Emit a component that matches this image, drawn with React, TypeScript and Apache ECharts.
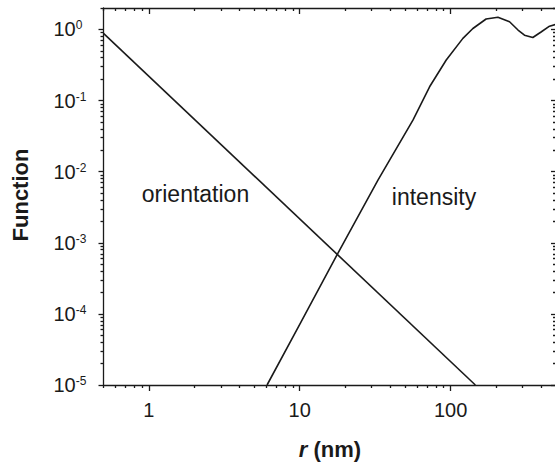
import React, { useEffect, useRef } from "react";
import * as echarts from "echarts";

// ---- data ----
const xMajor = [1, 10, 100];
const xMinor = [0.5, 0.6, 0.7, 0.8, 0.9, 2, 3, 4, 5, 6, 7, 8, 9, 20, 30, 40, 50, 60, 70, 80, 90, 200, 300, 400, 500];
const yMajor = [1e-5, 1e-4, 1e-3, 1e-2, 1e-1, 1];
const yMinor = [
  2e-5, 3e-5, 4e-5, 5e-5, 6e-5, 7e-5, 8e-5, 9e-5,
  2e-4, 3e-4, 4e-4, 5e-4, 6e-4, 7e-4, 8e-4, 9e-4,
  2e-3, 3e-3, 4e-3, 5e-3, 6e-3, 7e-3, 8e-3, 9e-3,
  2e-2, 3e-2, 4e-2, 5e-2, 6e-2, 7e-2, 8e-2, 9e-2,
  0.2, 0.3, 0.4, 0.5, 0.6, 0.7, 0.8, 0.9,
  2,
];

const orientationR = [0.5, 146];
const orientationF = [0.88, 1.0e-5];

const intensityR = [6.07, 10, 17.7, 33, 56.3, 72.6, 93.6, 120.7, 140.6, 172, 206, 246, 280, 309, 351, 398, 453, 500];
const intensityF = [1e-5, 7.1e-5, 6.8e-4, 7.6e-3, 0.053, 0.156, 0.371, 0.748, 1.03, 1.4, 1.48, 1.28, 0.98, 0.83, 0.77, 0.92, 1.11, 1.18];

const FONT = "'Liberation Sans', Arial, Helvetica, sans-serif";
const INK = "#1a1a1a";

export default function App() {
  const ref = useRef<HTMLDivElement>(null);

  useEffect(() => {
    if (!ref.current) return;
    const chart = echarts.init(ref.current, null, { renderer: "svg" });
    const lineStyle = { color: INK, width: 1.3 };

    const xCommon: any = {
      type: "log",
      logBase: 10,
      min: 0.5,
      max: 500,
      gridIndex: 0,
      splitLine: { show: false },
      minorTick: { show: false },
    };
    const yCommon: any = {
      type: "log",
      logBase: 10,
      min: 1e-5,
      max: 2,
      gridIndex: 0,
      splitLine: { show: false },
      minorTick: { show: false },
    };

    const option: any = {
      animation: false,
      backgroundColor: "#ffffff",
      grid: {
        left: 103.5,
        right: -1,
        top: 8,
        bottom: 81,
        containLabel: false,
        outerBoundsMode: "none",
      },
      xAxis: [
        {
          ...xCommon,
          position: "bottom",
          axisLine: { show: true, onZero: false, lineStyle },
          axisTick: { show: true, inside: false, length: 6, customValues: xMajor, lineStyle },
          axisLabel: {
            show: true,
            customValues: xMajor,
            margin: 15,
            fontSize: 20,
            color: INK,
            fontFamily: FONT,
            formatter: (v: number) => String(Math.round(v)),
          },
        },
        {
          ...xCommon,
          position: "bottom",
          axisLine: { show: false },
          axisTick: { show: true, inside: false, length: 3, customValues: xMinor, lineStyle },
          axisLabel: { show: false },
        },
        {
          ...xCommon,
          position: "top",
          axisLine: { show: true, onZero: false, lineStyle },
          axisTick: { show: true, inside: true, length: 6, customValues: xMajor, lineStyle },
          axisLabel: { show: false },
        },
        {
          ...xCommon,
          position: "top",
          axisLine: { show: false },
          axisTick: { show: true, inside: true, length: 3, customValues: xMinor, lineStyle },
          axisLabel: { show: false },
        },
      ],
      yAxis: [
        {
          ...yCommon,
          position: "left",
          axisLine: { show: true, onZero: false, lineStyle },
          axisTick: { show: true, inside: false, length: 5, customValues: yMajor, lineStyle },
          axisLabel: {
            show: true,
            customValues: yMajor,
            margin: 50,
            align: "left",
            color: INK,
            fontFamily: FONT,
            formatter: (v: number) => `{b|10}{s|${Math.round(Math.log10(v))}}`,
            rich: {
              b: { fontSize: 20, lineHeight: 20, color: INK, fontFamily: FONT },
              s: { fontSize: 12, lineHeight: 12, verticalAlign: "top", color: INK, fontFamily: FONT },
            },
          },
        },
        {
          ...yCommon,
          position: "left",
          axisLine: { show: false },
          axisTick: { show: true, inside: false, length: 3, customValues: yMinor, lineStyle },
          axisLabel: { show: false },
        },
        {
          ...yCommon,
          position: "right",
          axisLine: { show: true, onZero: false, lineStyle },
          axisTick: { show: true, inside: true, length: 5, customValues: yMajor, lineStyle },
          axisLabel: { show: false },
        },
        {
          ...yCommon,
          position: "right",
          axisLine: { show: false },
          axisTick: { show: true, inside: true, length: 3, customValues: yMinor, lineStyle },
          axisLabel: { show: false },
        },
      ],
      series: [
        {
          name: "orientation",
          type: "line",
          xAxisIndex: 0,
          yAxisIndex: 0,
          data: orientationR.map((r, i) => [r, orientationF[i]]),
          symbol: "none",
          clip: true,
          lineStyle: { color: INK, width: 1.6 },
        },
        {
          name: "intensity",
          type: "line",
          xAxisIndex: 0,
          yAxisIndex: 0,
          data: intensityR.map((r, i) => [r, intensityF[i]]),
          symbol: "none",
          clip: true,
          lineStyle: { color: INK, width: 1.6 },
        },
      ],
      graphic: [
        {
          type: "text",
          x: 195.5,
          y: 194,
          style: {
            text: "orientation",
            fill: INK,
            fontSize: 23,
            fontFamily: FONT,
            align: "center",
            verticalAlign: "middle",
            textAlign: "center",
            textVerticalAlign: "middle",
          },
        },
        {
          type: "text",
          x: 434,
          y: 197,
          style: {
            text: "intensity",
            fill: INK,
            fontSize: 23,
            fontFamily: FONT,
            align: "center",
            verticalAlign: "middle",
            textAlign: "center",
            textVerticalAlign: "middle",
          },
        },
        {
          type: "text",
          x: 20.5,
          y: 195,
          rotation: Math.PI / 2,
          style: {
            text: "Function",
            fill: INK,
            fontSize: 22,
            fontWeight: "bold",
            fontFamily: FONT,
            align: "center",
            verticalAlign: "middle",
            textAlign: "center",
            textVerticalAlign: "middle",
          },
        },
        {
          type: "text",
          x: 330,
          y: 449,
          style: {
            text: "{i|r} {b|(nm)}",
            fill: INK,
            fontSize: 22,
            fontWeight: "bold",
            fontFamily: FONT,
            align: "center",
            verticalAlign: "middle",
            textAlign: "center",
            textVerticalAlign: "middle",
            rich: {
              i: { fontSize: 22, fontWeight: "bold", fontStyle: "italic", fontFamily: FONT, fill: INK },
              b: { fontSize: 22, fontWeight: "bold", fontFamily: FONT, fill: INK },
            },
          },
        },
      ],
    };

    chart.setOption(option);
    return () => chart.dispose();
  }, []);

  return (
    <div
      ref={ref}
      style={{ position: "absolute", left: 0, top: 0, width: 555, height: 466, background: "#fff" }}
    />
  );
}
